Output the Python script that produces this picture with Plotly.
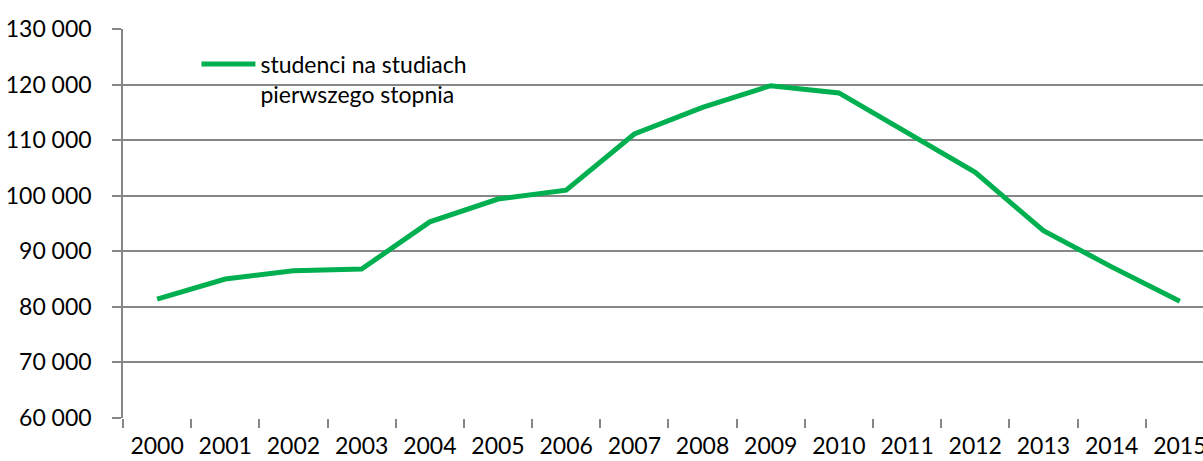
import plotly.graph_objects as go

# Liczba studentów na studiach pierwszego stopnia
years = [str(y) for y in range(2000, 2016)]
students = [81400, 85000, 86500, 86800, 95300, 99400, 101000, 111100,
            115900, 119800, 118500, 111400, 104200, 93700, 87200, 81000]

series_name = "studenci na studiach<br>pierwszego stopnia"
y_ticks = list(range(60000, 130001, 10000))
y_labels = [f"{v // 1000} 000" for v in y_ticks]

fig = go.Figure()
fig.add_trace(go.Scatter(x=years, y=students, mode="lines", name=series_name,
                         line=dict(color="#00B050", width=5)))

fig.update_xaxes(type="category", range=[-0.5, 15.34], tickson="boundaries",
                 ticks="outside", ticklen=9, tickcolor="#868686", tickwidth=1.5,
                 ticklabelstandoff=12, automargin=False,
                 showgrid=False, showline=False, zeroline=False)
fig.update_yaxes(range=[60000, 130000], tickvals=y_ticks, ticktext=y_labels,
                 ticks="outside", ticklen=9, tickcolor="#868686", tickwidth=1.5,
                 ticklabelstandoff=16, automargin=False,
                 showgrid=True, gridcolor="#868686", gridwidth=1.5,
                 showline=True, linecolor="#868686", linewidth=1.5,
                 zeroline=False)

fig.update_layout(
    width=1203, height=461,
    margin=dict(l=123, r=0, t=29, b=43),
    plot_bgcolor="white", paper_bgcolor="white",
    font=dict(family="Lato", size=23, color="#000000"),
    showlegend=True,
    legend=dict(x=0.068, y=0.965, xanchor="left", yanchor="top",
                bgcolor="rgba(255,255,255,0)", itemwidth=54, valign="top",
                font=dict(size=23)),
)

# drop the default 8px body margin so the figure fills the window exactly
fig.write_html("out.html", config={"displayModeBar": False},
               post_script="document.body.style.margin='0';"
                           "document.body.style.overflow='hidden';")
